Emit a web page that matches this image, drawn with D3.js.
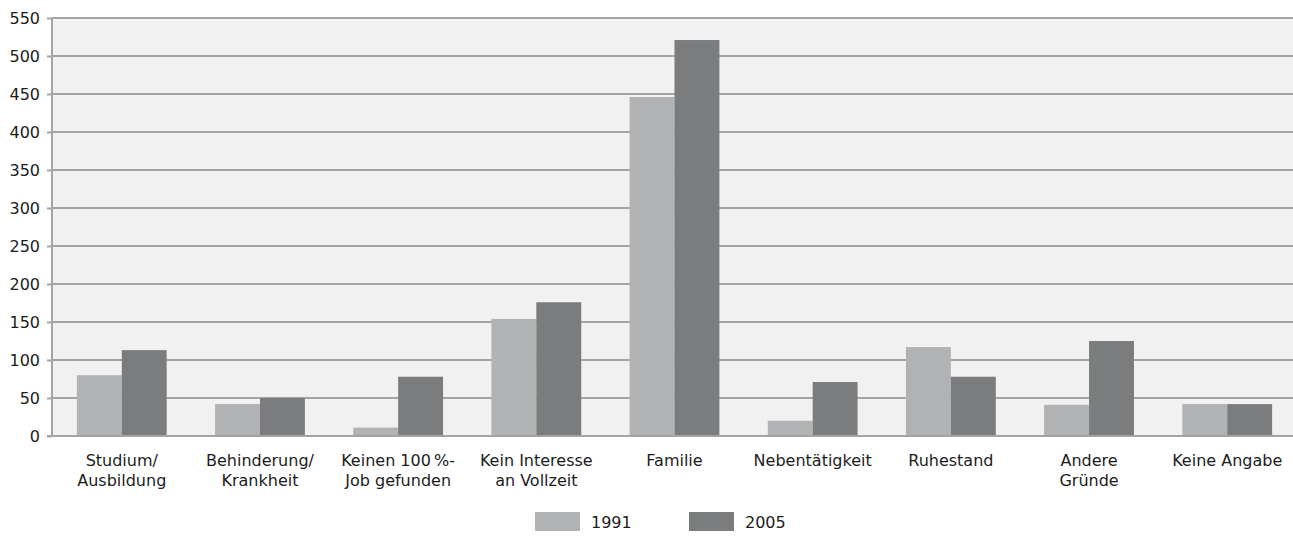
<!DOCTYPE html>
<html lang="de">
<head>
  <meta charset="UTF-8" />
  <title>Teilzeit – Gründe 1991 und 2005</title>
  <style>
    body {
      margin: 0;
      background: #fff;
      font-family: "DejaVu Sans", sans-serif;
    }
    svg { display: block; }
    .tick text, .label, .legend text {
      fill: #1c1c1c;
      font-size: 16px;
    }
  </style>
</head>
<body>
  <svg width="1293" height="536"></svg>

  <script src="https://cdnjs.cloudflare.com/ajax/libs/d3/7.8.5/d3.min.js"></script>
  <script>
    // categories (line breaks as in the original)
    const categories = [
      ["Studium/", "Ausbildung"],
      ["Behinderung/", "Krankheit"],
      ["Keinen 100\u2009%-", "Job gefunden"],
      ["Kein Interesse", "an Vollzeit"],
      ["Familie"],
      ["Nebentätigkeit"],
      ["Ruhestand"],
      ["Andere", "Gründe"],
      ["Keine Angabe"]
    ];
    const seriesNames = ["1991", "2005"];
    const values1991 = [80, 42, 11, 154, 446, 20, 117, 41, 42];
    const values2005 = [113, 50, 78, 176, 521, 71, 78, 125, 42];
    const yTicks = [0, 50, 100, 150, 200, 250, 300, 350, 400, 450, 500, 550];

    const colors = ["#b1b2b3", "#7b7c7d"];
    const series = [values1991, values2005];

    const margin = { top: 18, right: 0, bottom: 100, left: 52 };
    const width = 1293, height = 536;
    const innerW = width - margin.left - margin.right;
    const innerH = height - margin.top - margin.bottom;

    const svg = d3.select("svg");
    const g = svg.append("g").attr("transform", `translate(${margin.left},${margin.top})`);

    const x = d3.scaleBand()
      .domain(d3.range(categories.length))
      .range([0, innerW + 4])
      .paddingInner(0.35)
      .paddingOuter(0.18);

    const xs = d3.scaleBand()
      .domain(d3.range(seriesNames.length))
      .range([0, x.bandwidth()]);

    const y = d3.scaleLinear().domain([0, 550]).range([innerH, 0]);

    // plot background
    g.append("rect")
      .attr("width", innerW)
      .attr("height", innerH)
      .attr("fill", "#f0f1f0");

    // gridlines
    g.append("g")
      .selectAll("line")
      .data(yTicks.filter(d => d > 0))
      .join("line")
      .attr("x1", 0).attr("x2", innerW)
      .attr("y1", d => y(d)).attr("y2", d => y(d))
      .attr("stroke", "#a3a4a3")
      .attr("stroke-width", 2);

    // bars
    const group = g.append("g")
      .selectAll("g")
      .data(categories.map((c, i) => i))
      .join("g")
      .attr("transform", i => `translate(${x(i)},0)`);

    group.selectAll("rect")
      .data(i => series.map((s, k) => ({ k, v: s[i] })))
      .join("rect")
      .attr("x", d => xs(d.k))
      .attr("width", xs.bandwidth())
      .attr("y", d => y(d.v))
      .attr("height", d => innerH - y(d.v))
      .attr("fill", d => colors[d.k]);

    // y axis
    const yAxis = g.append("g")
      .call(d3.axisLeft(y).tickValues(yTicks).tickSize(5).tickPadding(7));
    yAxis.select(".domain").remove();
    yAxis.selectAll(".tick line").attr("stroke", "#a3a4a3").attr("stroke-width", 2);
    yAxis.selectAll(".tick text")
      .attr("font-family", "DejaVu Sans, sans-serif")
      .attr("font-size", null);

    // axis lines
    g.append("line")
      .attr("x1", 0).attr("x2", 0)
      .attr("y1", 0).attr("y2", innerH)
      .attr("stroke", "#a3a4a3").attr("stroke-width", 2);
    g.append("line")
      .attr("x1", -5).attr("x2", innerW)
      .attr("y1", innerH).attr("y2", innerH)
      .attr("stroke", "#a3a4a3").attr("stroke-width", 2);

    // category labels
    const labels = g.append("g")
      .selectAll("text")
      .data(categories)
      .join("text")
      .attr("class", "label")
      .attr("text-anchor", "middle")
      .attr("x", (d, i) => x(i) + x.bandwidth() / 2)
      .attr("y", innerH + 30);
    labels.selectAll("tspan")
      .data(d => d)
      .join("tspan")
      .attr("x", function () { return this.parentNode.getAttribute("x"); })
      .attr("dy", (d, i) => i === 0 ? 0 : 20)
      .text(d => d);

    // legend
    const legend = svg.append("g").attr("class", "legend");
    const legendX = [535, 689];
    const item = legend.selectAll("g")
      .data(seriesNames)
      .join("g")
      .attr("transform", (d, i) => `translate(${legendX[i]},512)`);
    item.append("rect")
      .attr("width", 45)
      .attr("height", 19)
      .attr("fill", (d, i) => colors[i]);
    item.append("text")
      .attr("x", 56)
      .attr("y", 16)
      .text(d => d);
  </script>
</body>
</html>
